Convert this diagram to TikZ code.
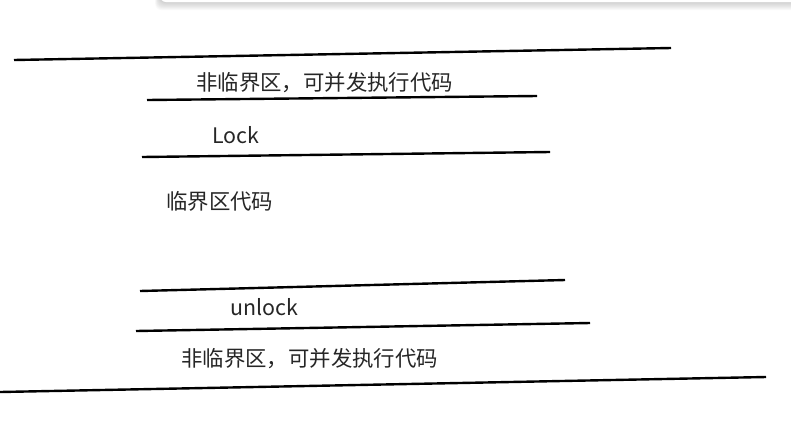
\documentclass[tikz,border=0pt]{standalone}
\usepackage{fontspec}
\setmainfont{Noto Sans CJK SC}
\usepackage{tikz}

\begin{document}
\begin{tikzpicture}[x=1pt, y=-1pt,
  rule/.style={black, line width=2.4pt},
  lbl/.style={font=\fontsize{21.4}{24}\selectfont, text=black!85, anchor=west, inner sep=0pt},
  haze/.style={fill=black, opacity=0.025, draw=none}]
  \useasboundingbox (0,0) rectangle (791,445);
  % card edge at the top
  \foreach \d in {1,2,...,8}
    \fill[haze, rounded corners=6pt] (160-\d*0.6,-20) rectangle (800,2+\d);
  \fill[white, rounded corners=6pt] (160,-20) rectangle (800,2);
  % rules
  \draw[rule] (14,60) -- (671,48);
  \draw[rule] (147,100) -- (537,96);
  \draw[rule] (142,157) -- (550,152);
  \draw[rule] (140,291) -- (565,280);
  \draw[rule] (136,331) -- (590,323);
  \draw[rule] (0,392) -- (766,377);
  % labels
  \node[lbl] (freeA) at (196,83) {非临界区，可并发执行代码};
  \node[lbl] (lock) at (212,135) {Lock};
  \node[lbl] (crit) at (166,201) {临界区代码};
  \node[lbl] (unlock) at (230,307) {unlock};
  \node[lbl] (freeB) at (181,359) {非临界区，可并发执行代码};
\end{tikzpicture}
\end{document}
